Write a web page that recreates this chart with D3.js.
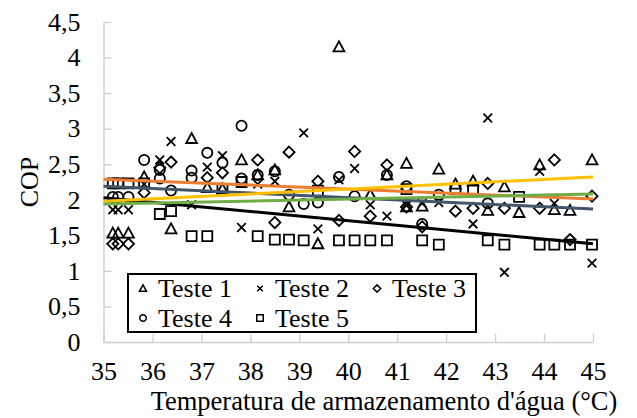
<!DOCTYPE html>
<html>
<head>
<meta charset="utf-8">
<script src="https://cdn.jsdelivr.net/npm/d3@7"></script>
<style>
  body { margin: 0; background: #fff; }
  text { font-family: "Liberation Serif", "Times New Roman", serif; fill: #000; }
</style>
</head>
<body>
<div id="chart"></div>
<script>
// data: [temperatura, COP]
var teste1 = [[35.19,1.53],[35.30,1.53],[35.51,1.53],[35.83,2.32],[36.38,1.59],[36.80,2.86],[37.12,2.17],
  [37.43,2.15],[37.82,2.56],[38.15,2.35],[38.50,2.42],[38.79,1.90],[39.38,1.38],[39.81,4.15],[40.45,2.07],
  [40.79,2.35],[41.19,2.51],[41.19,1.90],[41.51,1.91],[41.85,2.43],[42.19,2.22],[42.55,2.26],[42.85,1.85],
  [43.19,2.18],[43.49,1.82],[43.91,2.49],[44.21,1.86],[44.53,1.85],[44.98,2.56]];
var teste2 = [[35.19,1.86],[35.30,1.86],[35.51,1.86],[35.83,2.22],[36.15,2.56],[36.38,2.82],[36.80,1.93],
  [37.12,2.46],[37.43,2.62],[37.82,1.61],[38.15,2.22],[38.50,2.26],[39.09,2.94],[39.38,1.59],[39.81,2.28],
  [40.13,2.44],[40.45,1.93],[40.79,1.77],[41.19,1.92],[41.51,1.95],[41.85,1.96],[42.55,1.66],[42.85,3.15],
  [43.19,0.98],[43.91,2.40],[44.21,1.95],[44.98,1.11]];
var teste3 = [[35.19,1.38],[35.30,1.38],[35.51,1.38],[35.83,2.10],[36.15,2.45],[36.38,2.53],[37.12,2.31],
  [37.43,2.38],[38.15,2.56],[38.50,1.68],[38.79,2.67],[39.38,2.26],[39.81,1.71],[40.13,2.68],[40.45,1.77],
  [40.79,2.49],[41.19,1.90],[41.51,1.62],[42.19,1.84],[42.55,1.88],[42.85,2.23],[43.19,1.88],[43.91,1.88],
  [44.21,2.56],[44.53,1.44],[44.98,2.05]];
var teste4 = [[35.19,2.04],[35.30,2.04],[35.51,2.04],[35.83,2.56],[36.15,2.42],[36.15,2.30],[36.38,2.13],
  [36.80,2.41],[36.80,2.31],[37.12,2.66],[37.43,2.52],[37.82,3.04],[37.82,2.30],[38.15,2.35],[38.50,2.40],
  [38.79,2.07],[39.09,1.94],[39.38,1.96],[39.81,2.32],[40.13,2.05],[40.79,2.35],[41.19,2.19],[41.51,1.66],
  [41.85,2.07],[42.85,1.95]];
var teste5 = [[35.19,2.23],[35.30,2.23],[35.51,2.23],[35.83,2.23],[36.15,1.80],[36.38,1.84],[36.80,1.49],
  [37.12,1.49],[37.43,2.15],[37.82,2.25],[38.15,1.49],[38.50,1.44],[38.79,1.44],[39.09,1.43],[39.38,2.13],
  [39.81,1.43],[40.13,1.43],[40.45,1.43],[40.79,1.43],[41.19,2.15],[41.51,1.43],[41.85,1.37],[42.19,2.15],
  [42.55,2.15],[42.85,1.43],[43.19,1.37],[43.49,2.04],[43.91,1.37],[44.21,1.37],[44.53,1.37],[44.98,1.37]];

var seriesNames = ["Teste 1", "Teste 2", "Teste 3", "Teste 4", "Teste 5"];
var seriesShapes = ["triangle", "cross", "diamond", "circle", "square"];
var seriesData = [teste1, teste2, teste3, teste4, teste5];

// linear trend lines, value at 35 and at 45
var trendColors = ["#000000", "#44546a", "#ed7d31", "#ffc000", "#70ad47"];
var trendAt35 = [2.03, 2.19, 2.29, 1.98, 1.94];
var trendAt45 = [1.38, 1.87, 2.01, 2.32, 2.08];

var xTicks = d3.range(35, 46, 1);
var yTicks = [0, 0.5, 1, 1.5, 2, 2.5, 3, 3.5, 4, 4.5];

var svgWidth = 637;
var svgHeight = 418;
var margin = { top: 22, right: 44, bottom: 76, left: 103.5 };
var width = svgWidth - margin.left - margin.right;
var height = svgHeight - margin.top - margin.bottom;
var fontSize = 26;

var svg = d3.select("#chart").append("svg")
  .attr("width", svgWidth)
  .attr("height", svgHeight);

var chartGroup = svg.append("g")
  .attr("transform", `translate(${margin.left},${margin.top})`);

var xScale = d3.scaleLinear().domain([35, 45]).range([0, width]);
var yScale = d3.scaleLinear().domain([0, 4.5]).range([height, 0]);

var ptBR = d3.formatLocale({ decimal: ",", thousands: ".", grouping: [3], currency: ["", ""] });
var fmt = ptBR.format(".1~f");

// axes (light gray, ticks pointing inside)
var xAxis = chartGroup.append("g")
  .attr("transform", `translate(0,${height})`)
  .call(d3.axisBottom(xScale).tickValues(xTicks).tickSize(-8).tickSizeOuter(0).tickPadding(20).tickFormat(d3.format("d")));

var yAxis = chartGroup.append("g")
  .call(d3.axisLeft(yScale).tickValues(yTicks).tickSize(-8).tickSizeOuter(0).tickPadding(23).tickFormat(fmt));

[xAxis, yAxis].forEach(function(ax) {
  ax.attr("font-family", null);
  ax.select(".domain").attr("stroke", "#d0d0d0").attr("stroke-width", 1.4);
  ax.selectAll(".tick line").attr("stroke", "#d0d0d0").attr("stroke-width", 1.4);
  ax.selectAll(".tick text").attr("font-size", fontSize).attr("fill", "#000");
});

// marker shapes
function markerPath(type, s) {
  switch (type) {
    case "triangle": return `M0,${-5.6*s}L${5.4*s},${4.4*s}L${-5.4*s},${4.4*s}Z`;
    case "cross": return `M${-4.3*s},${-4.3*s}L${4.3*s},${4.3*s}M${4.3*s},${-4.3*s}L${-4.3*s},${4.3*s}`;
    case "diamond": return `M0,${-5.6*s}L${5.6*s},0L0,${5.6*s}L${-5.6*s},0Z`;
    case "square": return `M${-5*s},${-5*s}H${5*s}V${5*s}H${-5*s}Z`;
    default: return d3.arc()({ innerRadius: 0, outerRadius: 5.1 * s, startAngle: 0, endAngle: 2 * Math.PI });
  }
}

seriesData.forEach(function(data, i) {
  chartGroup.append("g").selectAll("path")
    .data(data)
    .enter()
    .append("path")
    .attr("transform", d => `translate(${xScale(d[0])},${yScale(d[1])})`)
    .attr("d", markerPath(seriesShapes[i], 1))
    .attr("fill", "none")
    .attr("stroke", "#000")
    .attr("stroke-width", 1.8);
});

// trend lines on top
trendColors.forEach(function(c, i) {
  chartGroup.append("line")
    .attr("x1", xScale(35)).attr("y1", yScale(trendAt35[i]))
    .attr("x2", xScale(45)).attr("y2", yScale(trendAt45[i]))
    .attr("stroke", c)
    .attr("stroke-width", 3);
});

// legend
var legend = svg.append("g").attr("transform", "translate(128,274)");
legend.append("rect")
  .attr("width", 348).attr("height", 58)
  .attr("fill", "#fff").attr("stroke", "#000").attr("stroke-width", 2);

seriesNames.forEach(function(name, i) {
  var col = i % 3, row = Math.floor(i / 3);
  var item = legend.append("g").attr("transform", `translate(${15 + col * 117},${14.5 + row * 29.5})`);
  item.append("path")
    .attr("d", markerPath(seriesShapes[i], 0.65))
    .attr("fill", "none").attr("stroke", "#000").attr("stroke-width", 1.5);
  item.append("text")
    .attr("x", 15).attr("dy", "0.33em")
    .attr("font-size", fontSize)
    .text(name);
});

// axis titles
svg.append("text")
  .attr("x", 384)
  .attr("y", 410)
  .attr("text-anchor", "middle")
  .attr("font-size", 26.5)
  .text("Temperatura de armazenamento d'água (°C)");

svg.append("text")
  .attr("transform", `translate(38,${margin.top + height / 2}) rotate(-90)`)
  .attr("text-anchor", "middle")
  .attr("font-size", fontSize)
  .text("COP");
</script>
</body>
</html>
